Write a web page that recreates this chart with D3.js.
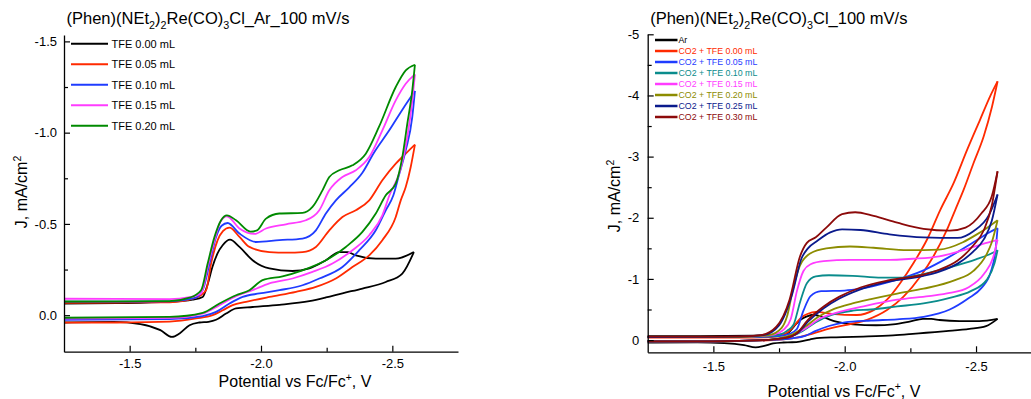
<!DOCTYPE html>
<html>
<head>
<meta charset="utf-8">
<script src="https://cdn.jsdelivr.net/npm/d3@7"></script>
<style>
  body { margin: 0; background: #fff; }
  svg { display: block; font-family: "Liberation Sans", Arial, sans-serif; }
</style>
</head>
<body>
<svg id="chart" width="1031" height="399"></svg>
<script>
// ticks
const xTicks = [-1.5, -2.0, -2.5];
const xMinor = [-1.75, -2.25];
const leftYTicks = [0, -0.5, -1.0, -1.5];
const leftYMinor = [-0.25, -0.75, -1.25];
const rightYTicks = [0, -1, -2, -3, -4, -5];
const rightYMinor = [-0.5, -1.5, -2.5, -3.5, -4.5];

// each scan: [potential V, J mA/cm2], forward to the vertex then back
const arScan = [[-1.25,-0.063],[-1.45,-0.066],[-1.65,-0.073],[-1.74,-0.085],[-1.778,-0.10],[-1.797,-0.17],[-1.815,-0.264],[-1.835,-0.34],[-1.854,-0.383],[-1.882,-0.414],[-1.918,-0.374],[-1.968,-0.301],[-2.032,-0.256],[-2.12,-0.242],[-2.184,-0.256],[-2.247,-0.301],[-2.298,-0.346],[-2.33,-0.345],[-2.361,-0.328],[-2.437,-0.310],[-2.513,-0.310],[-2.582,-0.346],
  [-2.538,-0.228],[-2.475,-0.182],[-2.386,-0.146],[-2.31,-0.12],[-2.247,-0.097],[-2.184,-0.077],[-2.07,-0.057],[-1.968,-0.045],[-1.905,-0.037],[-1.867,-0.009],[-1.829,0.025],[-1.8,0.036],[-1.766,0.040],[-1.728,0.055],[-1.69,0.10],[-1.661,0.119],[-1.617,0.082],[-1.541,0.049],[-1.439,0.037],[-1.25,0.040]];

const tfe005 = [[-1.25,-0.068],[-1.45,-0.069],[-1.652,-0.071],[-1.747,-0.093],[-1.791,-0.137],[-1.810,-0.283],[-1.835,-0.411],[-1.855,-0.46],[-1.880,-0.480],[-1.918,-0.429],[-1.956,-0.374],[-2.032,-0.346],[-2.1,-0.343],[-2.158,-0.346],[-2.209,-0.374],[-2.260,-0.465],[-2.310,-0.538],[-2.361,-0.575],[-2.412,-0.629],[-2.462,-0.739],[-2.513,-0.830],[-2.551,-0.885],[-2.586,-0.934],
  [-2.570,-0.812],[-2.551,-0.702],[-2.532,-0.629],[-2.513,-0.538],[-2.462,-0.411],[-2.412,-0.328],[-2.348,-0.264],[-2.285,-0.201],[-2.209,-0.155],[-2.133,-0.128],[-2.032,-0.100],[-1.943,-0.073],[-1.892,-0.055],[-1.854,-0.027],[-1.816,0],[-1.753,0.018],[-1.652,0.035],[-1.45,0.040],[-1.25,0.041]];

const tfe010 = [[-1.25,-0.074],[-1.45,-0.074],[-1.652,-0.076],[-1.747,-0.093],[-1.778,-0.137],[-1.804,-0.283],[-1.829,-0.429],[-1.85,-0.49],[-1.873,-0.505],[-1.918,-0.447],[-1.981,-0.401],[-2.070,-0.411],[-2.158,-0.420],[-2.209,-0.465],[-2.247,-0.557],[-2.285,-0.629],[-2.336,-0.70],[-2.386,-0.78],[-2.43,-0.89],[-2.487,-1.01],[-2.54,-1.13],[-2.586,-1.228],
  [-2.576,-1.086],[-2.551,-0.903],[-2.525,-0.766],[-2.504,-0.657],[-2.475,-0.575],[-2.437,-0.465],[-2.374,-0.356],[-2.310,-0.264],[-2.222,-0.201],[-2.158,-0.164],[-2.070,-0.137],[-1.994,-0.119],[-1.930,-0.100],[-1.880,-0.064],[-1.829,-0.018],[-1.778,0.005],[-1.652,0.022],[-1.25,0.025]];

const tfe015 = [[-1.25,-0.090],[-1.45,-0.089],[-1.652,-0.088],[-1.728,-0.099],[-1.772,-0.119],[-1.797,-0.264],[-1.823,-0.411],[-1.845,-0.51],[-1.870,-0.542],[-1.918,-0.475],[-1.975,-0.445],[-2.019,-0.475],[-2.095,-0.498],[-2.171,-0.520],[-2.222,-0.575],[-2.260,-0.684],[-2.310,-0.757],[-2.361,-0.794],[-2.412,-0.866],[-2.462,-1.013],[-2.513,-1.177],[-2.551,-1.268],[-2.586,-1.319],
  [-2.576,-1.177],[-2.557,-0.976],[-2.530,-0.794],[-2.489,-0.657],[-2.462,-0.547],[-2.412,-0.438],[-2.348,-0.356],[-2.272,-0.283],[-2.196,-0.237],[-2.120,-0.201],[-2.032,-0.174],[-1.968,-0.137],[-1.905,-0.104],[-1.842,-0.055],[-1.778,-0.009],[-1.652,0.015],[-1.25,0.019]];

const tfe020 = [[-1.25,-0.075],[-1.45,-0.076],[-1.652,-0.077],[-1.728,-0.096],[-1.772,-0.137],[-1.797,-0.283],[-1.823,-0.429],[-1.848,-0.520],[-1.870,-0.547],[-1.905,-0.520],[-1.960,-0.458],[-1.985,-0.465],[-2.019,-0.529],[-2.070,-0.557],[-2.158,-0.560],[-2.196,-0.593],[-2.234,-0.684],[-2.260,-0.757],[-2.298,-0.794],[-2.348,-0.821],[-2.399,-0.885],[-2.449,-1.031],[-2.513,-1.250],[-2.551,-1.341],[-2.586,-1.372],
  [-2.576,-1.232],[-2.557,-1.049],[-2.538,-0.866],[-2.513,-0.721],[-2.475,-0.657],[-2.437,-0.557],[-2.386,-0.456],[-2.323,-0.374],[-2.247,-0.301],[-2.158,-0.246],[-2.082,-0.213],[-2.006,-0.192],[-1.956,-0.137],[-1.905,-0.109],[-1.842,-0.064],[-1.778,-0.013],[-1.652,0.009],[-1.25,0.014]];

const co2Tfe000 = [[-1.25,-0.04],[-1.6,-0.04],[-1.72,-0.05],[-1.78,-0.12],[-1.81,-0.25],[-1.835,-0.37],[-1.86,-0.43],[-1.89,-0.46],[-1.95,-0.43],[-2.046,-0.41],[-2.11,-0.49],[-2.161,-0.66],[-2.211,-0.93],[-2.262,-1.26],[-2.313,-1.64],[-2.364,-2.13],[-2.415,-2.57],[-2.466,-3.11],[-2.516,-3.61],[-2.554,-3.99],[-2.582,-4.23],
  [-2.561,-3.82],[-2.529,-3.33],[-2.491,-2.90],[-2.453,-2.46],[-2.421,-2.13],[-2.389,-1.80],[-2.338,-1.37],[-2.288,-1.04],[-2.224,-0.71],[-2.161,-0.49],[-2.085,-0.33],[-2.008,-0.25],[-1.945,-0.19],[-1.881,-0.11],[-1.818,-0.04],[-1.729,0],[-1.5,0.02],[-1.25,0.02]];

const co2Tfe005 = [[-1.25,-0.05],[-1.6,-0.05],[-1.74,-0.06],[-1.79,-0.1],[-1.818,-0.18],[-1.843,-0.48],[-1.87,-0.72],[-1.91,-0.80],[-2.0,-0.81],[-2.06,-0.84],[-2.17,-0.95],[-2.3,-1.14],[-2.39,-1.34],[-2.49,-1.6],[-2.55,-1.76],[-2.582,-1.83],
  [-2.575,-1.5],[-2.555,-1.1],[-2.52,-0.85],[-2.47,-0.68],[-2.4,-0.5],[-2.3,-0.38],[-2.2,-0.34],[-2.1,-0.32],[-2.0,-0.29],[-1.94,-0.23],[-1.89,-0.15],[-1.85,-0.07],[-1.8,-0.03],[-1.7,0.0],[-1.5,0.02],[-1.25,0.02]];

const co2Tfe010 = [[-1.25,-0.05],[-1.6,-0.05],[-1.73,-0.07],[-1.78,-0.15],[-1.805,-0.25],[-1.83,-0.62],[-1.856,-0.93],[-1.89,-1.04],[-1.94,-1.06],[-2.03,-1.05],[-2.14,-1.02],[-2.22,-1.02],[-2.3,-1.08],[-2.4,-1.19],[-2.5,-1.32],[-2.55,-1.40],[-2.582,-1.47],
  [-2.57,-1.25],[-2.54,-0.98],[-2.48,-0.8],[-2.4,-0.69],[-2.3,-0.6],[-2.2,-0.55],[-2.1,-0.5],[-2.03,-0.48],[-1.95,-0.41],[-1.89,-0.29],[-1.84,-0.15],[-1.79,-0.05],[-1.74,-0.01],[-1.5,0.02],[-1.25,0.02]];

const co2Tfe015 = [[-1.25,-0.05],[-1.6,-0.05],[-1.72,-0.08],[-1.77,-0.18],[-1.795,-0.35],[-1.818,-0.80],[-1.843,-1.13],[-1.87,-1.24],[-1.92,-1.29],[-2.02,-1.31],[-2.15,-1.31],[-2.26,-1.33],[-2.36,-1.37],[-2.46,-1.48],[-2.54,-1.59],[-2.582,-1.64],
  [-2.565,-1.35],[-2.53,-1.08],[-2.47,-0.86],[-2.4,-0.77],[-2.32,-0.72],[-2.2,-0.66],[-2.08,-0.56],[-1.98,-0.46],[-1.91,-0.36],[-1.85,-0.19],[-1.80,-0.07],[-1.75,-0.02],[-1.7,0.0],[-1.5,0.02],[-1.25,0.02]];

const co2Tfe020 = [[-1.25,-0.05],[-1.6,-0.05],[-1.71,-0.08],[-1.76,-0.2],[-1.78,-0.38],[-1.805,-0.87],[-1.83,-1.22],[-1.87,-1.42],[-1.93,-1.50],[-2.02,-1.53],[-2.11,-1.51],[-2.24,-1.47],[-2.36,-1.48],[-2.45,-1.60],[-2.5,-1.72],[-2.54,-1.83],[-2.582,-1.96],
  [-2.56,-1.6],[-2.54,-1.4],[-2.49,-1.13],[-2.42,-0.98],[-2.3,-0.84],[-2.2,-0.76],[-2.1,-0.67],[-2.03,-0.6],[-1.96,-0.51],[-1.9,-0.38],[-1.85,-0.22],[-1.80,-0.09],[-1.75,-0.03],[-1.7,0.0],[-1.5,0.02],[-1.25,0.02]];

const co2Tfe025 = [[-1.25,-0.05],[-1.6,-0.055],[-1.69,-0.08],[-1.75,-0.24],[-1.8,-0.75],[-1.835,-1.33],[-1.86,-1.50],[-1.895,-1.62],[-1.945,-1.76],[-1.99,-1.81],[-2.06,-1.80],[-2.17,-1.73],[-2.3,-1.68],[-2.43,-1.67],[-2.49,-1.78],[-2.55,-2.05],[-2.582,-2.38],
  [-2.56,-1.95],[-2.53,-1.65],[-2.49,-1.45],[-2.43,-1.25],[-2.36,-1.12],[-2.3,-1.05],[-2.17,-0.96],[-2.06,-0.83],[-1.98,-0.68],[-1.92,-0.52],[-1.86,-0.30],[-1.82,-0.11],[-1.77,-0.03],[-1.7,0.0],[-1.5,0.02],[-1.25,0.02]];

const co2Tfe030 = [[-1.25,-0.055],[-1.6,-0.06],[-1.68,-0.08],[-1.74,-0.22],[-1.79,-0.66],[-1.83,-1.37],[-1.856,-1.59],[-1.89,-1.68],[-1.93,-1.84],[-1.99,-2.06],[-2.04,-2.09],[-2.11,-2.03],[-2.2,-1.92],[-2.3,-1.82],[-2.4,-1.79],[-2.46,-1.84],[-2.52,-2.07],[-2.56,-2.35],[-2.582,-2.76],
  [-2.56,-2.2],[-2.53,-1.8],[-2.49,-1.55],[-2.43,-1.3],[-2.36,-1.15],[-2.3,-1.07],[-2.17,-0.98],[-2.06,-0.86],[-1.98,-0.71],[-1.92,-0.55],[-1.86,-0.33],[-1.82,-0.12],[-1.77,-0.03],[-1.7,0.0],[-1.5,0.02],[-1.25,0.02]];

const leftScans = [arScan, tfe005, tfe010, tfe015, tfe020];
const leftLabels = ["TFE 0.00 mL", "TFE 0.05 mL", "TFE 0.10 mL", "TFE 0.15 mL", "TFE 0.20 mL"];
const leftColors = ["#000000", "#ff2a00", "#1f3cff", "#ff3cff", "#008a00"];

const rightScans = [arScan, co2Tfe000, co2Tfe005, co2Tfe010, co2Tfe015, co2Tfe020, co2Tfe025, co2Tfe030];
const rightLabels = ["Ar", "CO2 + TFE 0.00 mL", "CO2 + TFE 0.05 mL", "CO2 + TFE 0.10 mL", "CO2 + TFE 0.15 mL", "CO2 + TFE 0.20 mL", "CO2 + TFE 0.25 mL", "CO2 + TFE 0.30 mL"];
const rightColors = ["#000000", "#ff2a00", "#1f3cff", "#0a8c8c", "#ff3cff", "#8c8c00", "#0a1a8c", "#8c0a0a"];

const svg = d3.select("#chart");

// text with sub/superscripts, parts = [[text, "sub"|"sup"|undefined], ...]
function richText(sel, parts, size) {
    let shift = 0;
    parts.forEach(function(p) {
        let target = p[1] === "sub" ? 0.3 * size : (p[1] === "sup" ? -0.4 * size : 0);
        sel.append("tspan")
            .attr("dy", target - shift)
            .attr("font-size", p[1] ? size * 0.65 : size)
            .text(p[0]);
        shift = target;
    });
}

function panel(o) {
    let g = svg.append("g");
    let x = d3.scaleLinear().domain([-1.25, -2.75]).range([o.left, o.left + 394]);
    let y = d3.scaleLinear().domain(o.yDomain).range([o.bottom, o.top]);

    // curves: forward and return branch split at the vertex,
    // each branch sorted by screen x so monotoneX smoothing works
    let line = d3.line()
        .x(function(d) { return x(d[0]); })
        .y(function(d) { return y(d[1]); })
        .curve(d3.curveMonotoneX);
    o.scans.forEach(function(s, i) {
        let tip = d3.minIndex(s, function(d) { return d[0]; });
        [s.slice(0, tip + 1), s.slice(tip).reverse()].forEach(function(part) {
            g.append("path")
                .attr("d", line(part))
                .attr("fill", "none")
                .attr("stroke", o.colors[i])
                .attr("stroke-width", 1.8)
                .attr("stroke-linejoin", "round");
        });
    });

    // axes, ticks inward
    let xAxis = g.append("g").attr("transform", "translate(0," + o.bottom + ")")
        .call(d3.axisBottom(x).tickValues(xTicks).tickSize(-6).tickSizeOuter(0)
            .tickPadding(o.xPad).tickFormat(function(d) { return d.toFixed(1); }));
    g.append("g").attr("transform", "translate(0," + o.bottom + ")")
        .call(d3.axisBottom(x).tickValues(xMinor).tickSize(-4).tickSizeOuter(0).tickFormat(""))
        .select(".domain").remove();
    let yAxis = g.append("g").attr("transform", "translate(" + o.left + ",0)")
        .call(d3.axisLeft(y).tickValues(o.yTicks).tickSize(-6).tickSizeOuter(0)
            .tickPadding(o.yPad).tickFormat(o.yFormat));
    g.append("g").attr("transform", "translate(" + o.left + ",0)")
        .call(d3.axisLeft(y).tickValues(o.yMinor).tickSize(-4).tickSizeOuter(0).tickFormat(""))
        .select(".domain").remove();
    g.selectAll(".domain").attr("stroke-width", 1.3);
    g.selectAll(".tick line").attr("stroke-width", 1.2);
    xAxis.selectAll("text").attr("font-size", 13).attr("font-family", null);
    yAxis.selectAll("text").attr("font-size", 13).attr("font-family", null);

    // title
    richText(g.append("text").attr("x", o.left + 2.5).attr("y", 24), o.title, 16.5);

    // axis titles
    richText(g.append("text").attr("x", o.xTitleX).attr("y", o.xTitleY).attr("text-anchor", "middle"),
        [["Potential vs Fc/Fc"], ["+", "sup"], [", V"]], 16);
    richText(g.append("text").attr("text-anchor", "middle")
            .attr("transform", "translate(" + o.yTitleX + "," + o.yTitleY + ") rotate(-90)"),
        [["J, mA/cm"], ["2", "sup"]], 16);

    // legend
    let lg = g.append("g");
    o.labels.forEach(function(lab, i) {
        let ly = o.leg.y + i * o.leg.step;
        lg.append("line")
            .attr("x1", o.leg.x1).attr("x2", o.leg.x2).attr("y1", ly).attr("y2", ly)
            .attr("stroke", o.colors[i]).attr("stroke-width", o.leg.w);
        lg.append("text")
            .attr("x", o.leg.tx).attr("y", ly).attr("dy", "0.36em")
            .attr("font-size", o.leg.size)
            .attr("fill", o.leg.colored ? o.colors[i] : "#000")
            .text(lab);
    });
}

panel({
    left: 64, top: 35, bottom: 351.7, yDomain: [0.2, -1.535],
    yTicks: leftYTicks, yMinor: leftYMinor,
    yFormat: function(d) { return d.toFixed(1); },
    xPad: 7, yPad: 7,
    scans: leftScans, colors: leftColors, labels: leftLabels,
    title: [["(Phen)(NEt"], ["2", "sub"], [")"], ["2", "sub"], ["Re(CO)"], ["3", "sub"], ["Cl_Ar_100 mV/s"]],
    xTitleX: 295, xTitleY: 387, yTitleX: 27, yTitleY: 192,
    leg: { x1: 71, x2: 108, tx: 111.5, y: 43.7, step: 20.5, size: 11, w: 2, colored: false }
});

panel({
    left: 647.7, top: 34.3, bottom: 352.3, yDomain: [0.2, -5],
    yTicks: rightYTicks, yMinor: rightYMinor,
    yFormat: function(d) { return String(d); },
    xPad: 9.5, yPad: 8.5,
    scans: rightScans, colors: rightColors, labels: rightLabels,
    title: [["(Phen)(NEt"], ["2", "sub"], [")"], ["2", "sub"], ["Re(CO)"], ["3", "sub"], ["Cl_100 mV/s"]],
    xTitleX: 844, xTitleY: 396.5, yTitleX: 620, yTitleY: 196,
    leg: { x1: 655, x2: 677.5, tx: 678.5, y: 40, step: 11, size: 8.8, w: 2.5, colored: true }
});
</script>
</body>
</html>
